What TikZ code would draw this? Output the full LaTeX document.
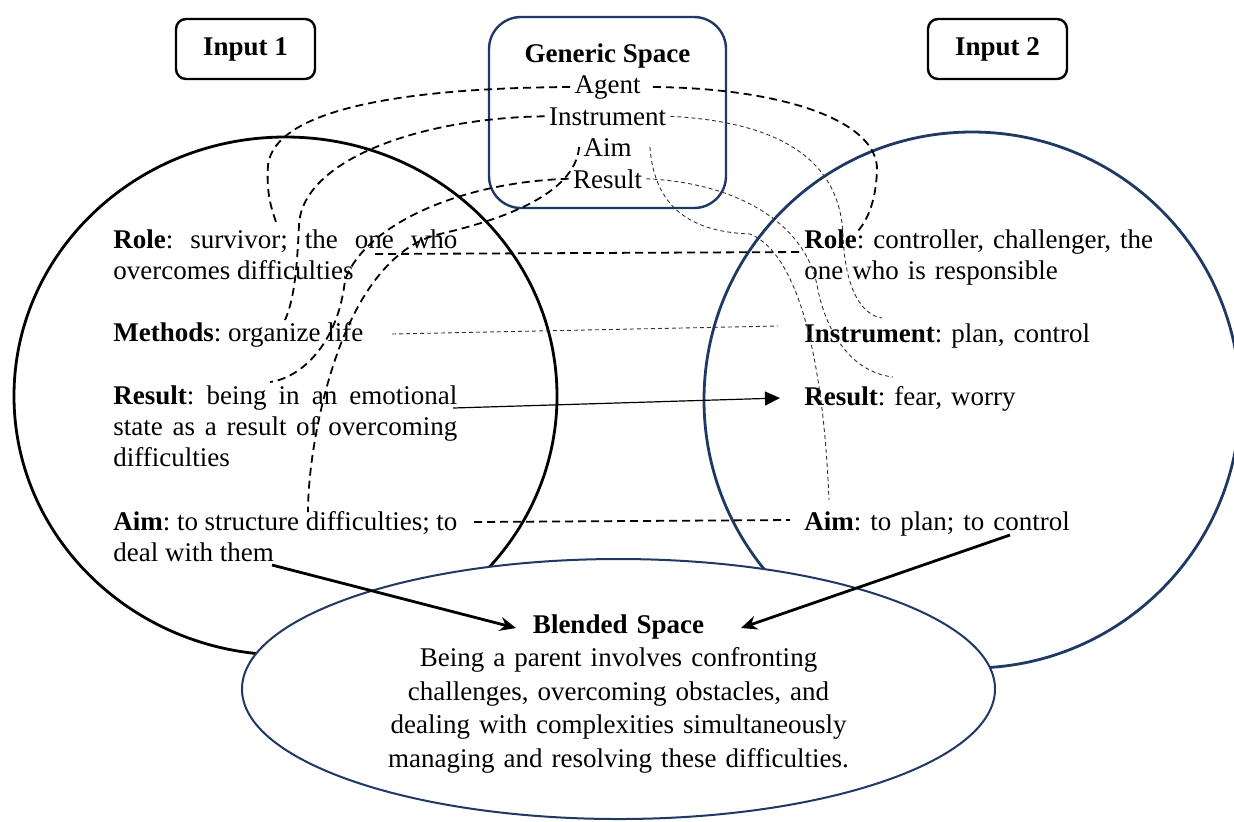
\documentclass[tikz,border=0pt]{standalone}
\usepackage{fontspec}
\setmainfont{Liberation Serif}
\usepackage{tikz}
\usetikzlibrary{arrows.meta}
\usepackage{xcolor}
\definecolor{navy}{HTML}{1F3864}
\newcommand{\diagfont}{\fontsize{13.5}{15.5}\selectfont}
\tolerance=9999
\hbadness=10000
\frenchspacing

\begin{document}
\begin{tikzpicture}[x=0.5pt,y=-0.5pt,>=Stealth,
    sp/.style={font=\diagfont, inner sep=0pt},
    txtL/.style={sp, anchor=base west, text width=172pt, align=justify},
    txtR/.style={sp, anchor=base west, text width=180pt, align=left},
    item/.style={sp, anchor=base, inner sep=2pt},
    inbox/.style={draw, line width=1.2pt, rounded corners=5pt, fill=white,
      minimum width=69.5pt, minimum height=30pt, font=\diagfont\bfseries},
    map/.style={line width=0.9pt, dash pattern=on 4pt off 2.5pt},
    thinmap/.style={line width=0.45pt, draw=black!80, dash pattern=on 2pt off 1.5pt},
    bigarrow/.style={line width=1.4pt, -{Stealth[length=8pt,width=7pt]}}]
  \useasboundingbox (0,0) rectangle (1234,821);

  % the two input spaces and the blend
  \draw[line width=1.4pt] (285.5,396) ellipse [x radius=271.5, y radius=259];
  \draw[navy, line width=1.4pt] (972,400) circle [radius=268];
  \draw[navy, line width=1pt, fill=white] (618.5,689) ellipse [x radius=376.5, y radius=130];

  \node[inbox] (in1) at (245.5,49) {Input 1};
  \node[inbox] (in2) at (997.5,49) {Input 2};

  % generic space
  \node[draw=navy, line width=1.2pt, rounded corners=16pt,
    minimum width=118.5pt, minimum height=95.5pt] (gen) at (607.5,112.5) {};
  \node[sp, anchor=base, font=\diagfont\bfseries] (gtitle) at (607.5,62) {Generic Space};
  \node[item] (agent) at (607.5,93) {Agent};
  \node[item] (instr) at (607.5,125) {Instrument};
  \node[item] (aim) at (607.5,156) {Aim};
  \node[item] (result) at (607.5,188) {Result};

  % input 1
  \node[txtL] (roleL) at (113,248) {\textbf{Role}: survivor; the one who\linebreak overcomes difficulties};
  \node[txtL] (methL) at (113,341) {\textbf{Methods}: organize life};
  \node[txtL] (resL) at (113,404) {\textbf{Result}: being in an emotional\linebreak state as a result of overcoming\linebreak difficulties};
  \node[txtL] (aimL) at (113,530) {\textbf{Aim}: to structure difficulties; to\linebreak deal with them};

  % input 2
  \node[txtR] (roleR) at (804,248) {\textbf{Role}: controller, challenger, the\\one who is responsible};
  \node[txtR] (instR) at (804,342) {\textbf{Instrument}: plan, control};
  \node[txtR] (resR) at (804,405) {\textbf{Result}: fear, worry};
  \node[txtR] (aimR) at (804,530) {\textbf{Aim}: to plan; to control};

  % blended space
  \node[sp, anchor=base, text width=240pt, align=center, font=\fontsize{13.5}{16.75}\selectfont] (blend) at (618.5,633)
    {\textbf{Blended Space}\\Being a parent involves confronting\\challenges, overcoming obstacles, and\\dealing with complexities simultaneously\\managing and resolving these difficulties.};

  % ends of the mappings
  \coordinate (agL) at (277,225);
  \coordinate (inL) at (285,320);
  \coordinate (reL) at (270,382);
  \coordinate (aiL) at (308,512);
  \coordinate (agR) at (857,232);
  \coordinate (inR) at (882,318);
  \coordinate (reR) at (893,377);
  \coordinate (aiR) at (829,500);
  \coordinate (roleA) at (375,254);
  \coordinate (roleB) at (803,252);
  \coordinate (methA) at (392,334);
  \coordinate (methB) at (778,326);
  \coordinate (resA) at (453,408);
  \coordinate (resB) at (780,398);
  \coordinate (aimA) at (474,522);
  \coordinate (aimB) at (790,520);
  \coordinate (dealA) at (272,565);
  \coordinate (blA) at (516,628);
  \coordinate (ctrlA) at (1010,535);
  \coordinate (blB) at (741,628);

  % generic -> input 1
  \draw[map] (agent.west) .. controls (400,88) and (275,110) .. (268,165)
    .. controls (266,195) and (272,210) .. (agL);
  \draw[map] (instr.west) .. controls (420,118) and (302,160) .. (299,225)
    .. controls (297,270) and (294,300) .. (inL);
  \draw[map] (result.west) .. controls (460,182) and (365,225) .. (345,280)
    .. controls (338,345) and (300,378) .. (reL);
  \draw[map] (aim.west) .. controls (575,195) and (500,220) .. (440,234)
    .. controls (390,245) and (355,300) .. (335,360)
    .. controls (318,410) and (308,470) .. (aiL);

  % generic -> input 2
  \draw[map] ([xshift=4pt]agent.east) .. controls (780,88) and (878,120) .. (877,170)
    .. controls (876,200) and (868,220) .. (agR);
  \draw[thinmap] (instr.east) .. controls (780,122) and (840,160) .. (843,235)
    .. controls (845,290) and (862,315) .. (inR);
  \draw[thinmap] (result.east) .. controls (740,183) and (805,225) .. (817,285)
    .. controls (825,330) and (850,372) .. (reR);
  \draw[thinmap] ([xshift=7pt]aim.east) .. controls (655,215) and (700,232) .. (750,234)
    .. controls (790,250) and (822,330) .. (aiR);

  % input 1 <-> input 2
  \draw[map] (roleA) -- (roleB);
  \draw[thinmap] (methA) -- (methB);
  \draw[line width=0.6pt, -{Triangle[length=7.5pt,width=7pt]}] (resA) -- (resB);
  \draw[map] (aimA) -- (aimB);

  % into the blend
  \draw[bigarrow] (dealA) -- (blA);
  \draw[bigarrow] (ctrlA) -- (blB);
\end{tikzpicture}
\end{document}
